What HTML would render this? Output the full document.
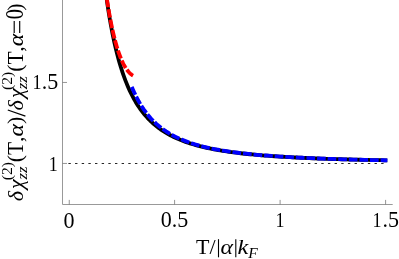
<!DOCTYPE html>
<html>
<head>
<meta charset="utf-8">
<title>chart</title>
<style>
html,body{margin:0;padding:0;background:#fff;}
body{width:399px;height:259px;overflow:hidden;}
svg{display:block;will-change:transform;}
text{font-family:"Liberation Serif",serif;fill:#000;}
.it{font-style:italic;}
</style>
</head>
<body>
<svg width="399" height="259" viewBox="0 0 399 259">
<rect width="399" height="259" fill="#fff"/>
<!-- axes -->
<g stroke="#999" stroke-width="1" fill="none">
<path d="M62.5,0 V204.5 H392.7"/>
</g>
<g stroke="#707070" stroke-width="0.75" fill="none">
<path d="M69.25,204.5 v-4.6"/>
<path d="M174.60,204.5 v-4.6"/>
<path d="M280.10,204.5 v-4.6"/>
<path d="M385.60,204.5 v-4.6"/>
<path d="M62.5,163.45 h4.5"/>
<path d="M62.5,82.45 h4.5"/>
</g>
<!-- dotted y=1 -->
<path d="M68.4,163.5 H385.6" stroke="#262626" stroke-width="1" stroke-dasharray="2.4 4.255" fill="none"/>
<!-- curves -->
<g fill="none" stroke-width="3.8" stroke-linejoin="round">
<path d="M103.91,-22.13 L103.95,-21.87 L104.02,-21.23 L104.14,-20.28 L104.29,-19.03 L104.47,-17.53 L104.69,-15.79 L104.94,-13.82 L105.22,-11.66 L105.53,-9.31 L105.86,-6.80 L106.23,-4.13 L106.62,-1.34 L107.04,1.58 L107.49,4.60 L107.96,7.71 L108.46,10.90 L108.98,14.14 L109.53,17.44 L110.10,20.78 L110.70,24.14 L111.33,27.52 L111.97,30.90 L112.64,34.29 L113.34,37.66 L114.06,41.01 L114.80,44.34 L115.56,47.64 L116.35,50.90 L117.16,54.12 L118.00,57.29 L118.85,60.40 L119.73,63.47 L120.63,66.47 L121.56,69.42 L122.50,72.30 L123.47,75.12 L124.46,77.87 L125.47,80.55 L126.50,83.17 L127.55,85.72 L128.62,88.20 L129.72,90.61 L130.84,92.95 L131.97,95.23 L133.13,97.44 L134.31,99.58 L135.51,101.66 L136.73,103.67 L137.97,105.62 L139.23,107.50 L140.51,109.33 L141.82,111.10 L143.14,112.81 L144.48,114.46 L145.84,116.06 L147.22,117.60 L148.63,119.09 L150.05,120.53 L151.49,121.92 L152.95,123.26 L154.43,124.56 L155.93,125.81 L157.45,127.02 L158.99,128.18 L160.55,129.31 L162.13,130.39 L163.73,131.44 L165.34,132.45 L166.98,133.43 L168.63,134.37 L170.31,135.28 L172.00,136.15 L173.71,137.00 L175.44,137.81 L177.19,138.60 L178.96,139.36 L180.74,140.09 L182.55,140.80 L184.37,141.48 L186.22,142.14 L188.08,142.77 L189.96,143.39 L191.85,143.98 L193.77,144.55 L195.71,145.10 L197.66,145.64 L199.63,146.15 L201.62,146.65 L203.63,147.13 L205.65,147.59 L207.70,148.04 L209.76,148.48 L211.84,148.89 L213.94,149.30 L216.05,149.69 L218.18,150.07 L220.34,150.44 L222.51,150.79 L224.69,151.13 L226.90,151.46 L229.12,151.78 L231.36,152.09 L233.62,152.39 L235.89,152.68 L238.19,152.97 L240.50,153.24 L242.83,153.50 L245.17,153.76 L247.53,154.00 L249.91,154.24 L252.31,154.48 L254.73,154.70 L257.16,154.92 L259.61,155.13 L262.08,155.34 L264.56,155.53 L267.06,155.73 L269.58,155.91 L272.12,156.09 L274.67,156.27 L277.24,156.44 L279.83,156.61 L282.43,156.77 L285.05,156.92 L287.69,157.07 L290.34,157.22 L293.01,157.36 L295.70,157.50 L298.41,157.64 L301.13,157.77 L303.87,157.90 L306.63,158.02 L309.40,158.14 L312.19,158.26 L314.99,158.37 L317.82,158.48 L320.66,158.59 L323.51,158.69 L326.38,158.79 L329.27,158.89 L332.18,158.99 L335.10,159.08 L338.04,159.17 L341.00,159.26 L343.97,159.35 L346.96,159.43 L349.96,159.51 L352.98,159.59 L356.02,159.67 L359.07,159.75 L362.14,159.82 L365.23,159.89 L368.33,159.96 L371.45,160.03 L374.59,160.10 L377.74,160.16 L380.90,160.22 L384.09,160.29 L387.29,160.35" stroke="#000"/>
<path d="M104.55,-18.11 L104.57,-17.96 L104.62,-17.59 L104.69,-17.02 L104.78,-16.29 L104.90,-15.40 L105.04,-14.36 L105.19,-13.19 L105.37,-11.89 L105.56,-10.47 L105.77,-8.93 L106.00,-7.30 L106.25,-5.57 L106.51,-3.76 L106.79,-1.87 L107.09,0.10 L107.40,2.13 L107.73,4.22 L108.07,6.36 L108.43,8.55 L108.81,10.77 L109.20,13.02 L109.60,15.30 L110.03,17.59 L110.46,19.90 L110.91,22.21 L111.38,24.53 L111.86,26.84 L112.35,29.14 L112.86,31.43 L113.39,33.70 L113.92,35.95 L114.47,38.17 L115.04,40.35 L115.62,42.50 L116.21,44.62 L116.82,46.68 L117.44,48.71 L118.07,50.68 L118.72,52.60 L119.38,54.46 L120.05,56.26 L120.74,58.01 L121.44,59.68 L122.16,61.30 L122.88,62.84 L123.62,64.31 L124.38,65.71 L125.14,67.04 L125.92,68.29 L126.71,69.46 L127.52,70.55 L128.33,71.56 L129.16,72.48 L130.01,73.32 L130.86,74.08 L131.73,74.74 L132.61,75.32 L133.50,75.81 L134.40,76.21" stroke="#f00" stroke-dasharray="8.65 1.95" stroke-dashoffset="4.2"/>
<path d="M131.81,86.88 L131.86,86.99 L131.97,87.28 L132.15,87.70 L132.38,88.25 L132.66,88.91 L132.99,89.68 L133.37,90.54 L133.79,91.49 L134.26,92.52 L134.77,93.62 L135.33,94.78 L135.92,96.00 L136.56,97.26 L137.24,98.57 L137.95,99.91 L138.71,101.28 L139.51,102.68 L140.34,104.09 L141.21,105.51 L142.12,106.94 L143.07,108.38 L144.05,109.81 L145.07,111.23 L146.13,112.65 L147.22,114.06 L148.35,115.45 L149.51,116.82 L150.71,118.18 L151.94,119.51 L153.21,120.82 L154.51,122.10 L155.84,123.36 L157.21,124.59 L158.61,125.80 L160.05,126.97 L161.52,128.12 L163.02,129.23 L164.56,130.32 L166.12,131.38 L167.72,132.40 L169.35,133.40 L171.02,134.37 L172.72,135.31 L174.44,136.22 L176.20,137.10 L178.00,137.96 L179.82,138.79 L181.67,139.59 L183.56,140.36 L185.47,141.11 L187.42,141.83 L189.40,142.53 L191.41,143.21 L193.45,143.86 L195.52,144.50 L197.62,145.11 L199.75,145.69 L201.91,146.26 L204.10,146.81 L206.32,147.34 L208.57,147.85 L210.85,148.34 L213.16,148.82 L215.50,149.28 L217.87,149.72 L220.27,150.15 L222.69,150.56 L225.15,150.96 L227.63,151.34 L230.15,151.71 L232.69,152.07 L235.26,152.42 L237.86,152.75 L240.49,153.07 L243.15,153.38 L245.84,153.68 L248.55,153.97 L251.30,154.25 L254.07,154.52 L256.87,154.78 L259.70,155.03 L262.55,155.27 L265.43,155.50 L268.35,155.73 L271.29,155.95 L274.25,156.16 L277.25,156.36 L280.27,156.56 L283.32,156.75 L286.40,156.94 L289.51,157.11 L292.64,157.29 L295.80,157.45 L298.99,157.61 L302.20,157.77 L305.44,157.92 L308.71,158.07 L312.01,158.21 L315.33,158.34 L318.68,158.48 L322.06,158.60 L325.46,158.73 L328.90,158.85 L332.35,158.96 L335.84,159.08 L339.35,159.19 L342.89,159.29 L346.45,159.39 L350.04,159.49 L353.66,159.59 L357.30,159.68 L360.97,159.77 L364.67,159.86 L368.39,159.95 L372.14,160.03 L375.91,160.11 L379.71,160.19 L383.54,160.26 L387.39,160.33" stroke="#00f" stroke-dasharray="8.65 1.95" stroke-dashoffset="0"/>
</g>
<!-- tick labels -->
<g font-size="23" text-anchor="middle">
<text x="69" y="227.5" font-size="24" textLength="11" lengthAdjust="spacingAndGlyphs">0</text>
<text x="174.4" y="227.2" textLength="27.5" lengthAdjust="spacingAndGlyphs">0.5</text>
<text x="280.1" y="227.2" font-size="22" textLength="9" lengthAdjust="spacingAndGlyphs">1</text>
</g>
<g font-size="23" text-anchor="start">
<text x="372.4" y="227.2" font-size="22" textLength="9" lengthAdjust="spacingAndGlyphs">1</text>
<text x="382.55" y="227.2" textLength="16.5" lengthAdjust="spacingAndGlyphs">.5</text>
<text x="48.8" y="170.7" font-size="22" textLength="9" lengthAdjust="spacingAndGlyphs">1</text>
<text x="32.5" y="89.4" font-size="22" textLength="9" lengthAdjust="spacingAndGlyphs">1</text>
<text x="41.7" y="89.4" textLength="16.5" lengthAdjust="spacingAndGlyphs">.5</text>
</g>
<!-- x label -->
<g font-size="22">
<text x="196" y="254.2">T/</text>
<path d="M218.5,239.2 V257.3" stroke="#000" stroke-width="1.1"/>
<text x="220.5" y="254.2" class="it" textLength="12.5" lengthAdjust="spacingAndGlyphs">α</text>
<path d="M235.8,239.2 V257.3" stroke="#000" stroke-width="1.1"/>
<text x="237.5" y="254.2" class="it" textLength="10.8" lengthAdjust="spacingAndGlyphs">k</text>
<text x="248.2" y="257.8" class="it" font-size="15.5">F</text>
</g>
<!-- y label -->
<g transform="translate(23,200.5) rotate(-90)">
<text x="-0.70" y="0" font-size="22" class="it">δ</text>
<text x="11.60" y="0" font-size="22" class="it">χ</text>
<text x="20.30" y="-10.7" font-size="15.5">(2)</text>
<text x="20.90" y="4.2" font-size="15.5" class="it" textLength="13.3" lengthAdjust="spacingAndGlyphs">zz</text>
<text x="38.35" y="-1.1" font-size="22">(</text>
<text x="45.60" y="0" font-size="23" textLength="13.2" lengthAdjust="spacingAndGlyphs">T</text>
<text x="58.50" y="0" font-size="22">,</text>
<text x="64.05" y="0" font-size="22" class="it" textLength="12.5" lengthAdjust="spacingAndGlyphs">α</text>
<text x="76.40" y="-1.1" font-size="22">)</text>
<path d="M84.3,2.4 L90.5,-15.2" stroke="#000" stroke-width="1.25" fill="none"/>
<text x="90.10" y="0" font-size="22" class="it">δ</text>
<text x="102.40" y="0" font-size="22" class="it">χ</text>
<text x="110.60" y="-10.7" font-size="15.5">(2)</text>
<text x="111.20" y="4.2" font-size="15.5" class="it" textLength="13.3" lengthAdjust="spacingAndGlyphs">zz</text>
<text x="128.65" y="-1.1" font-size="22">(</text>
<text x="135.90" y="0" font-size="23" textLength="13.2" lengthAdjust="spacingAndGlyphs">T</text>
<text x="148.80" y="0" font-size="22">,</text>
<text x="154.35" y="0" font-size="22" class="it" textLength="12.5" lengthAdjust="spacingAndGlyphs">α</text>
<path d="M167.6,-8.8 H179.6 M167.6,-3.3 H179.6" stroke="#000" stroke-width="1.15" fill="none"/>
<text x="181.2" y="0.2" font-size="24.5" textLength="10.2" lengthAdjust="spacingAndGlyphs">0</text>
<text x="189.80" y="-1.1" font-size="22">)</text>
</g>
</svg>
</body>
</html>
